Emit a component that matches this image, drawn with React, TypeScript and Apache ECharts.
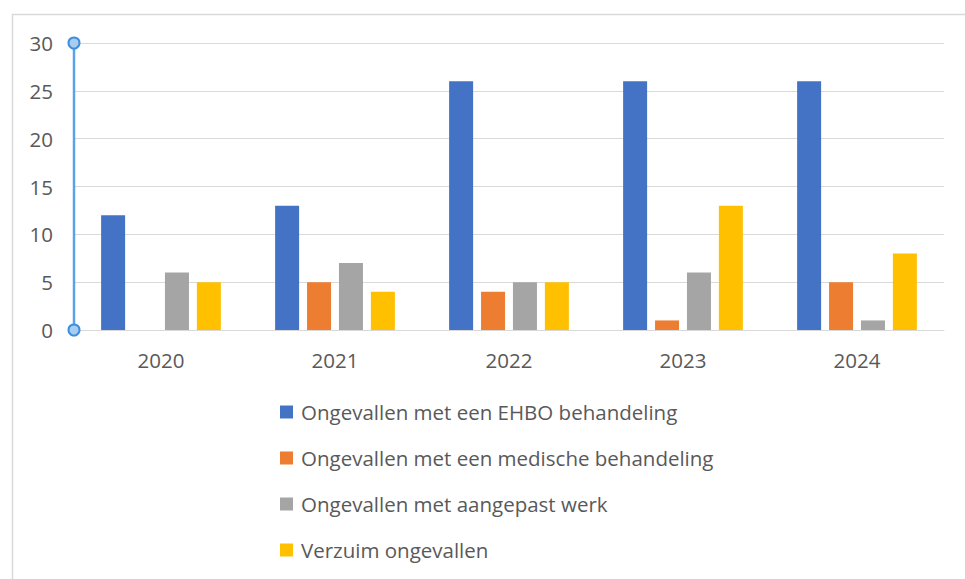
import React, { useEffect, useRef } from "react";
import * as echarts from "echarts";

const years = ["2020", "2021", "2022", "2023", "2024"];
const ehbo = [12, 13, 26, 26, 26];
const medisch = [0, 5, 4, 1, 5];
const aangepast = [6, 7, 5, 6, 1];
const verzuim = [5, 4, 5, 13, 8];
const seriesNames = [
  "Ongevallen met een EHBO behandeling",
  "Ongevallen met een medische behandeling",
  "Ongevallen met aangepast werk",
  "Verzuim ongevallen",
];
const colors = ["#4472c4", "#ed7d31", "#a5a5a5", "#ffc000"];

export default function App() {
  const ref = useRef<HTMLDivElement>(null);
  useEffect(() => {
    document.body.style.margin = "0";
    const chart = echarts.init(ref.current!, undefined, { renderer: "svg" });
    const font = "'Open Sans', 'Noto Sans', sans-serif";
    const data = [ehbo, medisch, aangepast, verzuim];
    chart.setOption({
      animation: false,
      textStyle: { fontFamily: font },
      grid: { left: 74, right: 21, top: 43, bottom: 249 },
      xAxis: {
        type: "category",
        data: years,
        axisLine: { lineStyle: { color: "#d9d9d9", width: 1 } },
        axisTick: { show: false },
        axisLabel: { color: "#595959", fontSize: 20.5, margin: 19, fontFamily: font },
      },
      yAxis: {
        type: "value",
        min: 0,
        max: 30,
        interval: 5,
        axisLine: { show: false },
        axisTick: { show: false },
        splitLine: { lineStyle: { color: "#d9d9d9", width: 1 } },
        axisLabel: { color: "#595959", fontSize: 20.5, margin: 21, fontFamily: font },
      },
      legend: {
        orient: "vertical",
        left: 275,
        top: 395,
        itemWidth: 13,
        itemHeight: 13,
        itemGap: 22,
        icon: "rect",
        textStyle: { color: "#595959", fontSize: 20.5, lineHeight: 24, padding: [0, 0, 0, 3], fontFamily: font },
        data: seriesNames,
      },
      series: seriesNames.map((n, i) => ({
        name: n,
        type: "bar",
        data: data[i],
        barWidth: 24,
        barGap: "33%",
        itemStyle: { color: colors[i] },
      })),
    });
    const top = chart.convertToPixel({ yAxisIndex: 0 }, 30) as number;
    const bottom = chart.convertToPixel({ yAxisIndex: 0 }, 0) as number;
    const x = 74;
    chart.setOption({
      graphic: [
        { type: "rect", shape: { x: 12.5, y: 14.5, width: 1000, height: 700 }, style: { fill: "none", stroke: "#d9d9d9", lineWidth: 1.5 }, silent: true },
        { type: "line", shape: { x1: x, y1: top, x2: x, y2: bottom }, style: { stroke: "#5ba3e8", lineWidth: 2.5 }, z: 100 },
        { type: "circle", shape: { cx: x, cy: top, r: 5.5 }, style: { fill: "#a8cdf3", stroke: "#3d8fdc", lineWidth: 2 }, z: 101 },
        { type: "circle", shape: { cx: x, cy: bottom, r: 5.5 }, style: { fill: "#a8cdf3", stroke: "#3d8fdc", lineWidth: 2 }, z: 101 },
      ],
    });
    return () => chart.dispose();
  }, []);
  return <div ref={ref} style={{ width: 965, height: 579 }} />;
}
